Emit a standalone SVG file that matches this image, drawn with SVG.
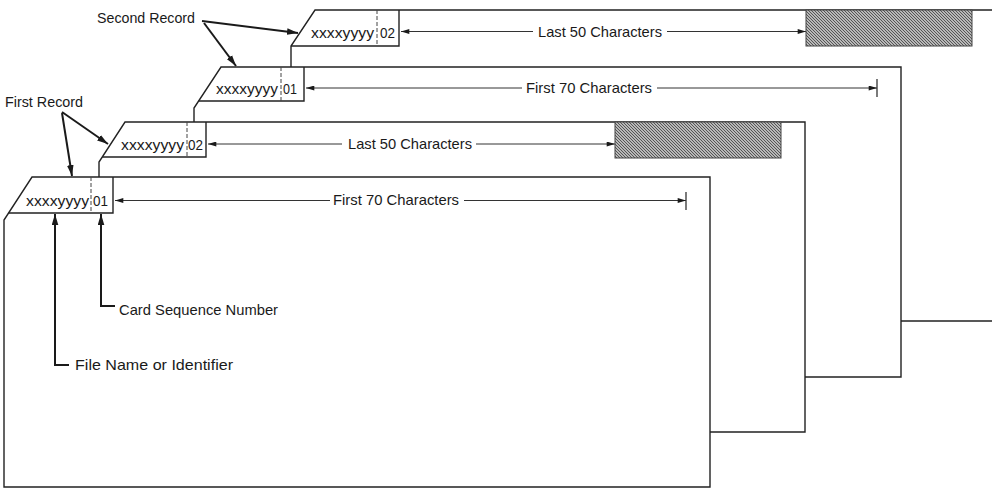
<svg xmlns="http://www.w3.org/2000/svg" width="992" height="489" viewBox="0 0 992 489">
<style>
.card{fill:#fff;stroke:#222;stroke-width:1.4;stroke-linejoin:miter}
.ln{fill:none;stroke:#222;stroke-width:1.4}
.div{fill:none;stroke:#444;stroke-width:1;stroke-dasharray:4 2}
.dim{fill:none;stroke:#333;stroke-width:1}
.ptr{fill:none;stroke:#1a1a1a;stroke-width:2}
.hatch{fill:url(#hatch);stroke:#444;stroke-width:1}
text{font-family:"Liberation Sans",Arial,sans-serif;fill:#1a1a1a}
.t{font-size:15px}
.f{font-size:15.5px}
</style>
<defs>
<pattern id="hatch" width="3" height="3" patternUnits="userSpaceOnUse">
<rect width="3" height="3" fill="#b8b8b8"/>
<path d="M0,0 L3,3 M-1,2 L1,4 M2,-1 L4,1" stroke="#4a4a4a" stroke-width="0.9"/>
</pattern>
<marker id="ah" viewBox="0 0 10 6" refX="10" refY="3" markerWidth="10" markerHeight="5" markerUnits="userSpaceOnUse" orient="auto">
<path d="M0,0 L10,3 L0,6 z" fill="#1a1a1a"/>
</marker>
<marker id="ap" viewBox="0 0 10 6" refX="10" refY="3" markerWidth="11" markerHeight="7" markerUnits="userSpaceOnUse" orient="auto">
<path d="M0,0 L10,3 L0,6 z" fill="#1a1a1a"/>
</marker>
</defs>

<g id="card-record2-last50">
<polygon class="card" points="315,10 1000,10 1000,321 291,321 291,46"/>
<path class="ln" d="M291,46 L399,46 L399,10"/>
<path class="div" d="M377,10 L377,46"/>
<text class="f" x="311" y="38" textLength="63" lengthAdjust="spacingAndGlyphs">xxxxyyyy</text>
<text class="f" x="380" y="38" textLength="15" lengthAdjust="spacingAndGlyphs">02</text>
<path class="dim" d="M533,31.5 L401,31.5" marker-end="url(#ah)"/>
<text class="t" x="538" y="37" textLength="124" lengthAdjust="spacingAndGlyphs">Last 50 Characters</text>
<path class="dim" d="M667,31.5 L806,31.5" marker-end="url(#ah)"/>
<rect class="hatch" x="806" y="10" width="166" height="36"/>
</g>

<g id="card-record2-first70">
<polygon class="card" points="221,67 901,67 901,377 194,377 194,108"/>
<path class="ln" d="M198.6,101 L304,101 L304,67"/>
<path class="div" d="M281,67 L281,101"/>
<text class="f" x="216" y="94" textLength="62" lengthAdjust="spacingAndGlyphs">xxxxyyyy</text>
<text class="f" x="283" y="94" textLength="14" lengthAdjust="spacingAndGlyphs">01</text>
<path class="dim" d="M522,88 L306,88" marker-end="url(#ah)"/>
<text class="t" x="526" y="93" textLength="126" lengthAdjust="spacingAndGlyphs">First 70 Characters</text>
<path class="dim" d="M657,88 L877,88" marker-end="url(#ah)"/>
<path class="dim" d="M877,79 L877,97" style="stroke-width:1.3"/>
</g>

<g id="card-record1-last50">
<polygon class="card" points="125,122 805,122 805,432 99,432 99,162"/>
<path class="ln" d="M102.3,157 L206,157 L206,122"/>
<path class="div" d="M187,122 L187,157"/>
<text class="f" x="121" y="150" textLength="63" lengthAdjust="spacingAndGlyphs">xxxxyyyy</text>
<text class="f" x="188" y="150" textLength="15" lengthAdjust="spacingAndGlyphs">02</text>
<path class="dim" d="M342,144 L208,144" marker-end="url(#ah)"/>
<text class="t" x="348" y="149" textLength="124" lengthAdjust="spacingAndGlyphs">Last 50 Characters</text>
<path class="dim" d="M476,144 L615,144" marker-end="url(#ah)"/>
<rect class="hatch" x="615" y="122" width="166" height="36"/>
</g>

<g id="card-record1-first70">
<polygon class="card" points="32,177 710,177 710,487 4,487 4,220"/>
<path class="ln" d="M8.6,213 L113,213 L113,177"/>
<path class="div" d="M91,177 L91,213"/>
<text class="f" x="26" y="206" textLength="63" lengthAdjust="spacingAndGlyphs">xxxxyyyy</text>
<text class="f" x="93" y="206" textLength="15" lengthAdjust="spacingAndGlyphs">01</text>
<path class="dim" d="M330,200.5 L115,200.5" marker-end="url(#ah)"/>
<text class="t" x="333" y="205" textLength="126" lengthAdjust="spacingAndGlyphs">First 70 Characters</text>
<path class="dim" d="M464,200.5 L686,200.5" marker-end="url(#ah)"/>
<path class="dim" d="M686,192 L686,210" style="stroke-width:1.3"/>
</g>

<g id="label-second-record">
<text class="t" x="97" y="23" textLength="98" lengthAdjust="spacingAndGlyphs">Second Record</text>
</g>
<g id="label-first-record">
<text class="t" x="5" y="107" textLength="78" lengthAdjust="spacingAndGlyphs">First Record</text>
</g>
<g id="label-card-sequence">
<text class="t" x="119" y="315" textLength="159" lengthAdjust="spacingAndGlyphs">Card Sequence Number</text>
</g>
<g id="label-file-name">
<text class="t" x="75" y="370" textLength="158" lengthAdjust="spacingAndGlyphs">File Name or Identifier</text>
</g>

<g id="connectors">
<path class="ptr" d="M202,21 L298,33" marker-end="url(#ap)"/>
<path class="ptr" d="M204,23 L236,66" marker-end="url(#ap)"/>
<path class="ptr" d="M62,112 L108,144" marker-end="url(#ap)"/>
<path class="ptr" d="M62,113 L72,176" marker-end="url(#ap)"/>
<path class="ptr" d="M115,306 L101,306 L101,214" marker-end="url(#ap)"/>
<path class="ptr" d="M69,365 L55,365 L55,214" marker-end="url(#ap)"/>
</g>
</svg>
